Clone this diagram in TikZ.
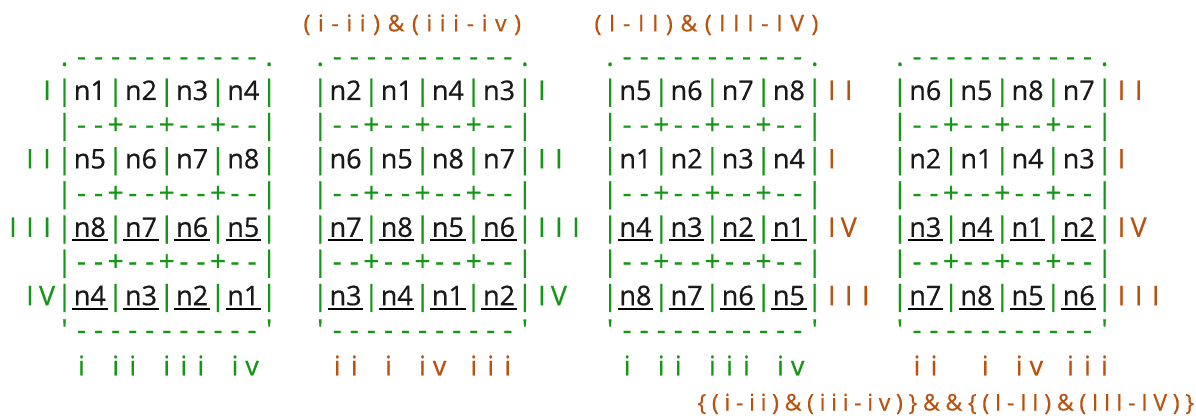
\documentclass[tikz,border=0pt]{standalone}
\usepackage{fontspec}
\setmainfont{Open Sans}
\newfontfamily\artfont[FakeBold=0.6]{Open Sans}
\usetikzlibrary{positioning}
\definecolor{grn}{RGB}{22,150,22}
\definecolor{org}{RGB}{184,82,14}
\newlength\cw \setlength\cw{17.05pt}
\newlength\ls \setlength\ls{7.6pt}
\makeatletter
% one character per grid cell
\newcommand\mono[1]{\@tfor\tchar:=#1\do{\makebox[\cw][c]{\tchar}}}
% spaced-out label text
\newcommand\tracked[1]{\@tfor\tchar:=#1\do{\tchar\kern\ls}}
\makeatother
\tikzset{
  frametxt/.style={font=\artfont\fontsize{28pt}{32pt}\selectfont, text=grn, inner sep=0pt, anchor=base west},
  labeltxt/.style={font=\artfont\fontsize{27pt}{31pt}\selectfont, text=grn, inner sep=0pt, anchor=base west},
  celltxt/.style={font=\artfont\fontsize{27pt}{31pt}\selectfont, text=black!90, inner xsep=1.5pt, inner ysep=0pt, anchor=base},
  uline/.style={draw=black, line width=2pt},
  toptxt/.style={font=\artfont\fontsize{23pt}{27pt}\selectfont, text=org, inner sep=0pt, anchor=base west},
  bracetxt/.style={toptxt, font={\artfont\fontsize{23pt}{27pt}\selectfont\setlength\ls{5.7pt}}}
}
\begin{document}
\begin{tikzpicture}[x=17.05pt, y=-34.2pt]
\useasboundingbox (-0.7713,-1.924) rectangle (69.377,10.298);
% frames of the four tables
\foreach \bx in {3,18,35,52} {
  \node[frametxt] (top\bx) at (\bx-0.5,0) {\mono{.-----------.}};
  \foreach \li in {1,3,5,7}
    \node[frametxt] (row\bx-\li) at (\bx-0.5,\li) {\mono{|~~|~~|~~|~~|}};
  \foreach \li in {2,4,6}
    \node[frametxt] (sep\bx-\li) at (\bx-0.5,\li) {\mono{|--+--+--+--|}};
  \node[frametxt] (bot\bx) at (\bx-0.5,8) {\mono{\textquotesingle-----------\textquotesingle}};
}
% cell entries, rows 3 and 4 underlined
\foreach \bx/\rw/\pa/\pb/\pc/\pd in {3/1/n1/n2/n3/n4, 3/2/n5/n6/n7/n8, 3/3/n8/n7/n6/n5, 3/4/n4/n3/n2/n1,
    18/1/n2/n1/n4/n3, 18/2/n6/n5/n8/n7, 18/3/n7/n8/n5/n6, 18/4/n3/n4/n1/n2,
    35/1/n5/n6/n7/n8, 35/2/n1/n2/n3/n4, 35/3/n4/n3/n2/n1, 35/4/n8/n7/n6/n5,
    52/1/n6/n5/n8/n7, 52/2/n2/n1/n4/n3, 52/3/n3/n4/n1/n2, 52/4/n7/n8/n5/n6} {
  \foreach \v [count=\k from 0] in {\pa,\pb,\pc,\pd} {
    \node[celltxt] (c\bx-\rw-\k) at (\bx+1.5+3*\k, 2*\rw-1) {\v};
    \ifnum\rw>2
      \draw[uline] ([yshift=-3.5pt]c\bx-\rw-\k.base west) -- ([yshift=-3.5pt]c\bx-\rw-\k.base east);
    \fi
  }
}
% row labels
\foreach \li/\txt in {1/I,3/II,5/III,7/IV} {
  \node[labeltxt, anchor=base east] (lft\li) at (2.5,\li) {\expandafter\mono\expandafter{\txt}};
  \node[labeltxt] (rgt\li) at (30.5,\li) {\expandafter\mono\expandafter{\txt}};
}
\foreach \li/\txt in {1/II,3/I,5/IV,7/III} {
  \node[labeltxt, text=org] (rgtc\li) at (47.5,\li) {\expandafter\mono\expandafter{\txt}};
  \node[labeltxt, text=org] (rgtd\li) at (64.5,\li) {\expandafter\mono\expandafter{\txt}};
}
% column labels
\node[labeltxt] (colsa) at (3.5,9.05) {\mono{i~ii~iii~iv}};
\node[labeltxt, text=org] (colsb) at (18.5,9.05) {\mono{ii~i~iv~iii}};
\node[labeltxt] (colsc) at (35.5,9.05) {\mono{i~ii~iii~iv}};
\node[labeltxt, text=org] (colsd) at (52.5,9.05) {\mono{ii~~i~iv~iii}};
% swaps
\node[toptxt] (swapa) at (17.02,-1.006) {\tracked{(i-ii)\&(iii-iv)}};
\node[toptxt] (swapb) at (34.09,-1.006) {\tracked{(I-II)\&(III-IV)}};
\node[bracetxt] (swapab) at (40.13,10.08) {\tracked{\{(i-ii)\&(iii-iv)\}\&\&\{(I-II)\&(III-IV)\}}};
\end{tikzpicture}
\end{document}
